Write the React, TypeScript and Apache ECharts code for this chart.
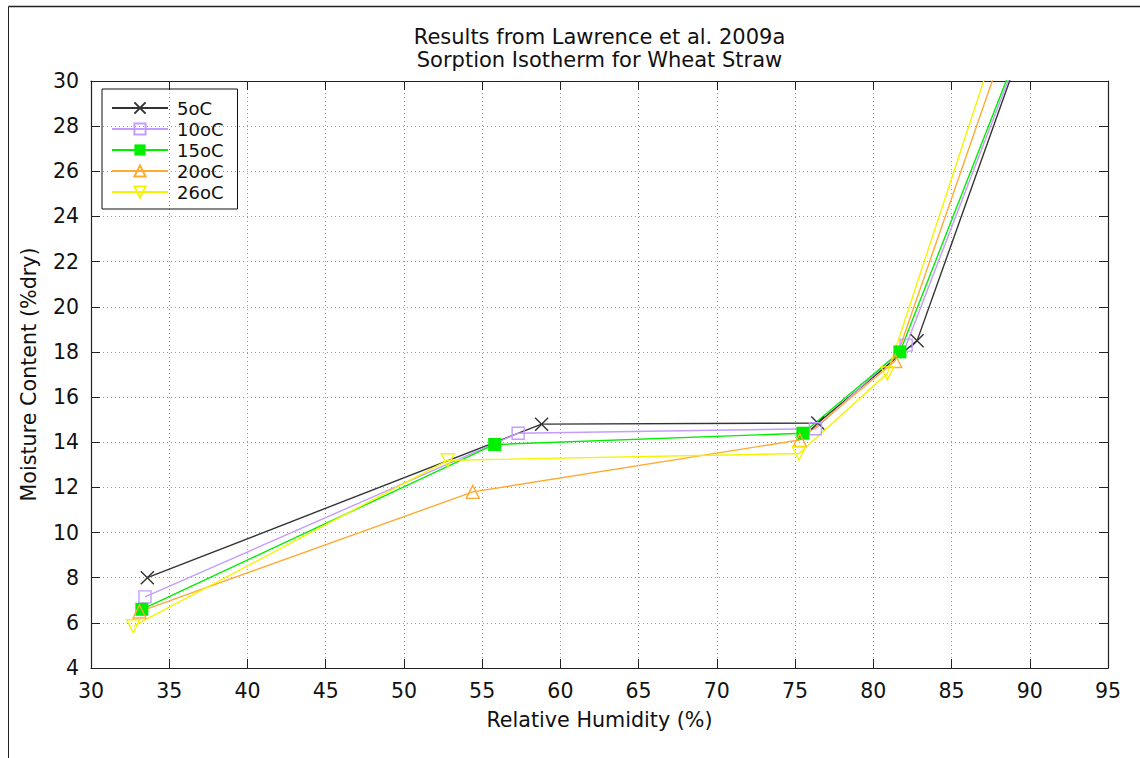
import React, { useEffect, useRef } from "react";
import * as echarts from "echarts";

const titleLines = ["Results from Lawrence et al. 2009a", "Sorption Isotherm for Wheat Straw"];
const xName = "Relative Humidity (%)";
const yName = "Moisture Content (%dry)";

const seriesNames = ["5oC", "10oC", "15oC", "20oC", "26oC"];
const rh5 = [33.6, 58.8, 76.45, 82.8, 92.0];
const mc5 = [8.0, 14.8, 14.85, 18.5, 36.4];
const rh10 = [33.45, 57.3, 76.3, 82.1, 92.0];
const mc10 = [7.15, 14.4, 14.6, 18.3, 36.1];
const rh15 = [33.25, 55.8, 75.5, 81.7, 92.0];
const mc15 = [6.6, 13.9, 14.4, 18.0, 36.2];
const rh20 = [33.1, 54.4, 75.3, 81.4, 92.0];
const mc20 = [6.5, 11.8, 14.1, 17.6, 38.8];
const rh26 = [32.7, 52.8, 75.25, 80.9, 92.0];
const mc26 = [5.85, 13.2, 13.5, 17.05, 40.4];

const xMin = 30, xMax = 95, xStep = 5;
const yMin = 4, yMax = 30, yStep = 2;

const FONT = "DejaVu Sans";

function pairs(xs: number[], ys: number[]) {
  return xs.map((x, i) => [x, ys[i]]);
}

export default function App() {
  const ref = useRef<HTMLDivElement>(null);
  useEffect(() => {
    if (!ref.current) return;
    const chart = echarts.init(ref.current, undefined, { renderer: "svg" });
    const lineW = 1.4;
    const mk = (name: string, data: number[][], color: string, symbol: string, filled: boolean, size: number, rotate = 0) => ({
      name,
      type: "line",
      data,
      symbol,
      symbolSize: size,
      symbolRotate: rotate,
      showSymbol: true,
      lineStyle: { color, width: lineW },
      itemStyle: filled
        ? { color, borderColor: color, borderWidth: 0 }
        : { color: "none", borderColor: color, borderWidth: 1.4 },
      emphasis: { disabled: true },
      z: 3,
    });
    const tickCommon = { show: true, inside: true, length: 9, lineStyle: { color: "#222", width: 1 } };
    const axisLineCommon = { show: true, onZero: false, lineStyle: { color: "#222", width: 1.2 } };
    const splitCommon = { show: true, lineStyle: { color: "#9a9a9a", width: 1, type: [1, 3] } };
    chart.setOption({
      animation: false,
      backgroundColor: "#fff",
      title: {
        text: titleLines.join("\n"),
        left: 599.5,
        textAlign: "center",
        top: 25,
        padding: 0,
        textStyle: { fontFamily: FONT, fontSize: 21, fontWeight: "normal", color: "#111", lineHeight: 23 },
      },
      legend: {
        orient: "vertical",
        left: 102,
        top: 89,
        padding: [8.5, 14, 6.5, 9],
        itemGap: 0,
        itemWidth: 56,
        itemHeight: 14,
        borderColor: "#111",
        borderWidth: 1,
        textStyle: { fontFamily: FONT, fontSize: 18, color: "#111", lineHeight: 21, padding: [0, 0, 0, 4] },
        data: seriesNames,
      },
      grid: { left: 91, right: 32, top: 81, bottom: 90, containLabel: false },
      xAxis: [
        {
          type: "value", min: xMin, max: xMax, interval: xStep, position: "bottom",
          name: xName, nameLocation: "middle", nameGap: 41,
          nameTextStyle: { fontFamily: FONT, fontSize: 20.7, color: "#111" },
          axisLine: axisLineCommon, axisTick: tickCommon,
          axisLabel: { fontFamily: FONT, fontSize: 20.5, color: "#111", margin: 12 },
          splitLine: splitCommon,
        },
        {
          type: "value", min: xMin, max: xMax, interval: xStep, position: "top",
          axisLine: axisLineCommon, axisTick: tickCommon, axisLabel: { show: false }, splitLine: { show: false },
        },
      ],
      yAxis: [
        {
          type: "value", min: yMin, max: yMax, interval: yStep, position: "left",
          name: yName, nameLocation: "middle", nameGap: 52,
          nameTextStyle: { fontFamily: FONT, fontSize: 20.7, color: "#111" },
          axisLine: axisLineCommon, axisTick: tickCommon,
          axisLabel: { fontFamily: FONT, fontSize: 20.5, color: "#111", margin: 12 },
          splitLine: splitCommon,
        },
        {
          type: "value", min: yMin, max: yMax, interval: yStep, position: "right",
          axisLine: axisLineCommon, axisTick: tickCommon, axisLabel: { show: false }, splitLine: { show: false },
        },
      ],
      graphic: [
        { type: "line", shape: { x1: 8.5, y1: 6.5, x2: 1140, y2: 6.5 }, style: { stroke: "#222", lineWidth: 1.5 } },
        { type: "line", shape: { x1: 8.5, y1: 6.5, x2: 8.5, y2: 758 }, style: { stroke: "#222", lineWidth: 1 } },
      ],
      series: [
        mk(seriesNames[0], pairs(rh5, mc5), "#333333", "path://M0 0L10 10M10 0L0 10", false, 13),
        mk(seriesNames[1], pairs(rh10, mc10), "#c49cff", "rect", false, 12),
        mk(seriesNames[2], pairs(rh15, mc15), "#00ee00", "rect", true, 13),
        mk(seriesNames[3], pairs(rh20, mc20), "#ffaa33", "triangle", false, 13),
        mk(seriesNames[4], pairs(rh26, mc26), "#f4f400", "triangle", false, 13, 180),
      ],
    });
    return () => chart.dispose();
  }, []);
  return (
    <div
      ref={ref}
      style={{ position: "fixed", left: 0, top: 0, width: 1140, height: 758 }}
    />
  );
}
